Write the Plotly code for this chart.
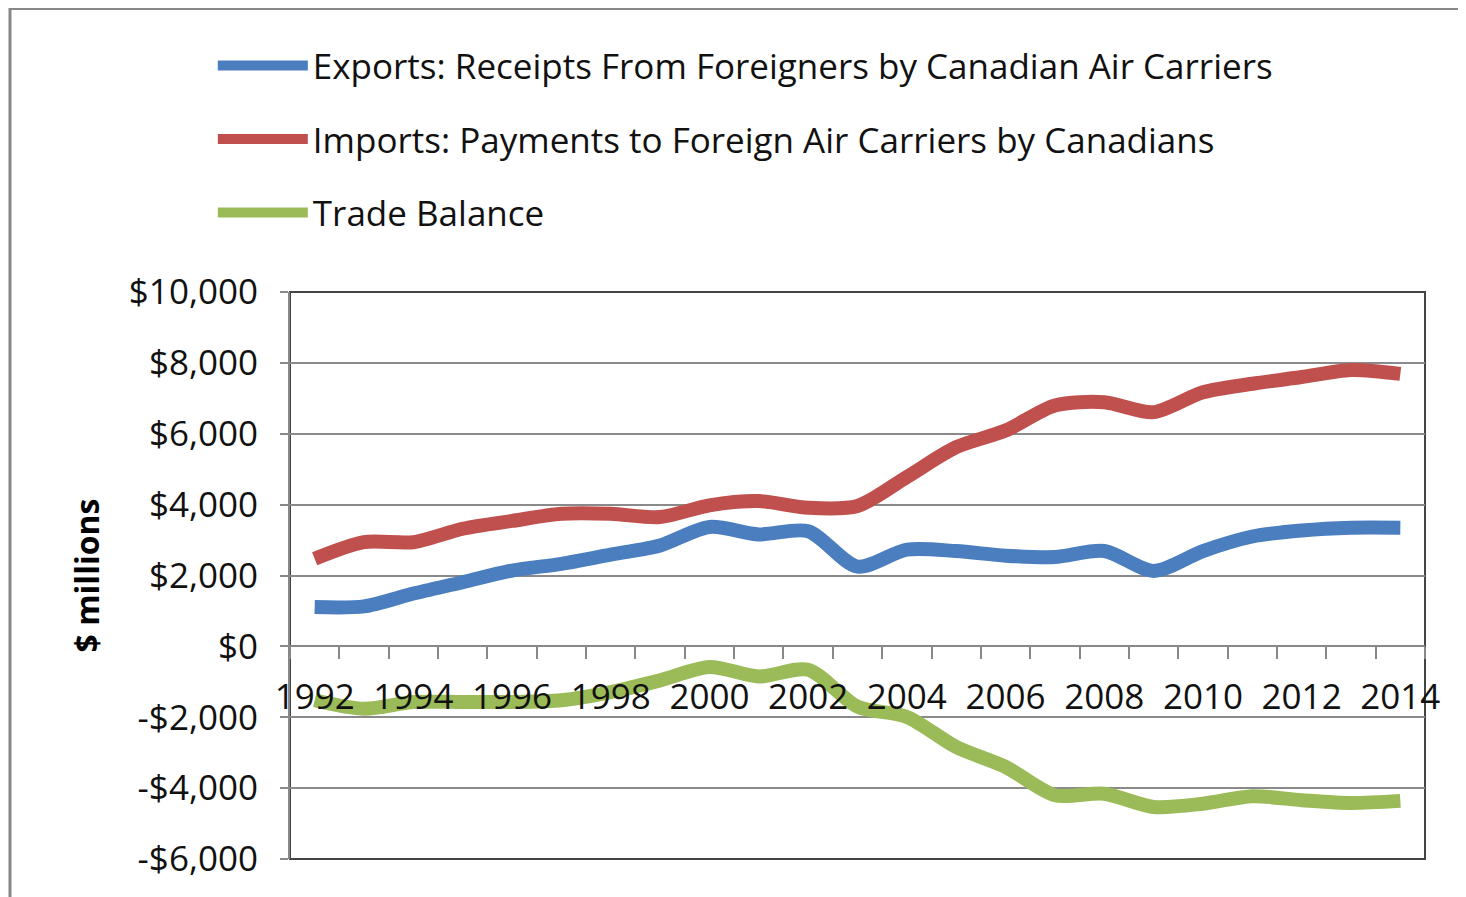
import plotly.graph_objects as go

years = list(range(1992, 2015))
exports = [1110, 1130, 1490, 1810, 2140, 2330, 2590, 2850, 3370, 3160, 3250, 2250,
           2730, 2690, 2560, 2520, 2690, 2130, 2690, 3100, 3270, 3350, 3350]
imports = [2470, 2940, 2940, 3320, 3540, 3740, 3740, 3650, 3980, 4100, 3910, 3960,
           4780, 5620, 6090, 6800, 6890, 6610, 7170, 7410, 7600, 7800, 7690]
balance = [-1520, -1760, -1570, -1570, -1570, -1520, -1290, -960, -580, -850, -660, -1700,
           -1990, -2840, -3400, -4200, -4160, -4530, -4440, -4230, -4340, -4420, -4360]

series_names = ["Exports: Receipts From Foreigners by Canadian Air Carriers",
                "Imports: Payments to Foreign Air Carriers by Canadians",
                "Trade Balance"]
series_colors = ["#4A7EBF", "#C0504D", "#9BBB59"]

x_tickvals = list(range(1992, 2015, 2))
x_ticktext = [str(y) for y in x_tickvals]
y_tickvals = [-6000, -4000, -2000, 0, 2000, 4000, 6000, 8000, 10000]
y_ticktext = ["-$6,000", "-$4,000", "-$2,000", "$0", "$2,000", "$4,000", "$6,000", "$8,000", "$10,000"]

FONT = "Open Sans"
fig = go.Figure()
for i, (name, vals) in enumerate(zip(series_names, [exports, imports, balance])):
    fig.add_trace(go.Scatter(
        x=years, y=vals, name=name, mode="lines", legendgroup=f"g{i}",
        line=dict(color=series_colors[i], width=14, shape="spline", smoothing=0.8),
    ))

fig.update_layout(
    width=1466, height=897,
    margin=dict(l=282, r=49, t=284, b=46),
    paper_bgcolor="white", plot_bgcolor="white",
    font=dict(family=FONT, size=31, color="#111"),
    showlegend=True,
    legend=dict(x=-0.068, y=1.451, xanchor="left", yanchor="top",
                font=dict(family=FONT, size=35, color="#111"),
                itemwidth=90, tracegroupgap=25, bgcolor="rgba(0,0,0,0)"),
    xaxis=dict(range=[1991.5, 2014.5], anchor="free", position=0.375,
               tickvals=x_tickvals, ticktext=x_ticktext, ticks="",
               ticklabelstandoff=20,
               showline=True, linecolor="#888", linewidth=2, showgrid=False, zeroline=False,
               tickfont=dict(family=FONT, size=35, color="#111"),
               minor=dict(ticks="outside", tick0=1991.5, dtick=1, ticklen=12,
                          tickcolor="#888", tickwidth=2, showgrid=False)),
    yaxis=dict(range=[-6000, 10000], tickvals=y_tickvals, ticktext=y_ticktext,
               ticks="outside", ticklen=8, tickcolor="#888", tickwidth=2,
               ticklabelstandoff=15,
               showline=True, linecolor="#888", linewidth=2,
               showgrid=True, gridcolor="#8a8a8a", gridwidth=2, zeroline=False,
               tickfont=dict(family=FONT, size=35, color="#111"),
               title=dict(text="<b>$ millions</b>", font=dict(family=FONT, size=32, color="#000"),
                          standoff=20)),
    shapes=[
        dict(type="rect", xref="paper", yref="paper", x0=0, x1=1, y0=0, y1=1,
             line=dict(color="#444", width=2), layer="between"),
        dict(type="rect", xref="paper", yref="paper", x0=-0.2467, x1=1.1, y0=-0.2, y1=1.4999,
             line=dict(color="#888", width=3), layer="below"),
    ],
)

fig.write_html("out.html")
